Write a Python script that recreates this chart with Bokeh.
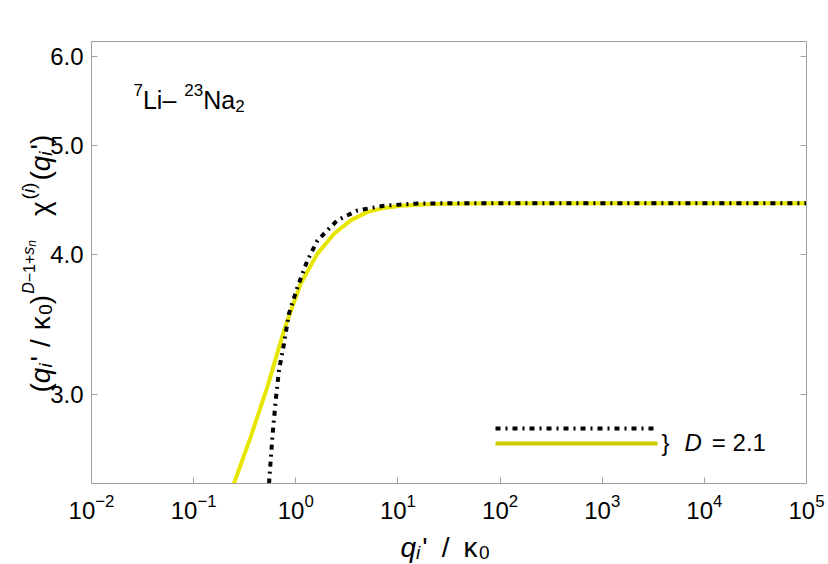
import math
from bokeh.plotting import figure
from bokeh.models import Label, FixedTicker, PrintfTickFormatter, LogAxis, Range1d, LogTickFormatter
from bokeh.embed import file_html
from bokeh.resources import INLINE

# ---------------- data ----------------
q_solid = [0.248, 0.362, 0.527, 0.767, 1.117, 1.63, 2.37, 3.44, 5.0, 7.3, 10.6, 22.0, 50.0, 100.0, 1e3, 1e4, 1e5]
chi_solid = [2.50, 2.751, 3.048, 3.423, 3.767, 4.006, 4.173, 4.289, 4.362, 4.40, 4.42, 4.435, 4.440, 4.443, 4.443, 4.443, 4.443]
q_dash = [0.547, 0.590, 0.636, 0.685, 0.767, 0.857, 1.04, 1.30, 1.63, 2.55, 4.01, 7.3, 15.5, 50.0, 100.0, 1e3, 1e4, 1e5]
chi_dash = [2.50, 2.751, 2.966, 3.154, 3.331, 3.542, 3.741, 3.951, 4.116, 4.289, 4.377, 4.42, 4.44, 4.443, 4.443, 4.443, 4.443, 4.443]
x_ticks = [1e-2, 1e-1, 1e0, 1e1, 1e2, 1e3, 1e4, 1e5]
y_ticks = [3.0, 4.0, 5.0, 6.0]
legend_value = "= 2.1"
X_LO, X_HI = 1e-2, 1e5
Y_LO, Y_HI = 2.5, 6.19

# ---------------- style / layout ----------------
FONT = "Liberation Sans"
GRAY = "#a0a0a0"
YELLOW = "#e6e600"
YELLOW_LEG = "#cccc00"
W, H = 828, 564
FL, FR, FT, FB = 91, 806, 41, 483   # plot box edges in page pixels


def dx(px):
    a, b = math.log10(X_LO), math.log10(X_HI)
    return 10 ** (a + (px - FL) / (FR - FL) * (b - a))


def dy(py):
    a, b = math.log10(Y_LO), math.log10(Y_HI)
    return 10 ** (a + (FB - py) / (FB - FT) * (b - a))


WID = {'(': 333, ')': 333, 'q': 556, 'i': 222, "'": 191, ' ': 278, '/': 278, 'κ': 520,
       '0': 556, '1': 556, '2': 556, '3': 556, '7': 556, 'D': 722, '−': 584, '+': 584,
       's': 500, 'n': 556, 'χ': 520, 'L': 556, 'a': 556, 'N': 722, '–': 556, '=': 584,
       '.': 278, '}': 334}


def tw(t, size):
    return sum(WID.get(c, 556) for c in t) * size / 1000.0


p = figure(width=W, height=H, x_axis_type="log", y_axis_type="log",
           x_range=Range1d(dx(0), dx(W)), y_range=Range1d(dy(H), dy(0)),
           output_backend="svg", toolbar_location=None, title=None,
           min_border=0, min_border_left=0, min_border_right=0,
           min_border_top=0, min_border_bottom=0)
p.grid.visible = False
p.outline_line_color = None
p.background_fill_color = "white"
p.border_fill_color = "white"

xa = p.xaxis[0]
xa.ticker = FixedTicker(ticks=x_ticks)
xa.formatter = LogTickFormatter()
xa.fixed_location = Y_LO
xa.bounds = (X_LO, X_HI)
ya = p.yaxis[0]
ya.ticker = FixedTicker(ticks=y_ticks)
ya.formatter = PrintfTickFormatter(format="%.1f")
ya.fixed_location = X_LO
ya.bounds = (Y_LO, Y_HI)

ra = LogAxis(ticker=FixedTicker(ticks=y_ticks), fixed_location=X_HI, bounds=(Y_LO, Y_HI))
ta = LogAxis(ticker=FixedTicker(ticks=[]), fixed_location=Y_HI, bounds=(X_LO, X_HI))
p.add_layout(ra, "right")
p.add_layout(ta, "above")

for ax in (xa, ya, ra, ta):
    ax.axis_line_color = GRAY
    ax.axis_line_width = 1
    ax.major_tick_line_color = GRAY
    ax.major_tick_in = 6
    ax.major_tick_out = 0
    ax.minor_tick_line_color = None
    ax.major_label_text_font = FONT
    ax.major_label_text_font_size = "24px"
    ax.major_label_text_color = "black"
for ax in (ra, ta):
    ax.major_label_text_color = None
    ax.major_label_standoff = 0
xa.major_label_standoff = 10
ya.major_label_standoff = 8

# curves
p.line(q_solid, chi_solid, line_color=YELLOW, line_width=4)
p.line(q_dash, chi_dash, line_color="black", line_width=4, line_dash="5 5 2 5")

# legend sample lines
p.line([dx(495), dx(655)], [dy(428), dy(428)], line_color="black", line_width=4, line_dash="5 5 2 5")
p.line([dx(495), dx(657)], [dy(443), dy(443)], line_color=YELLOW_LEG, line_width=4)


def put(px, py, txt, size, style="normal", angle=0.0):
    p.add_layout(Label(x=dx(px), y=dy(py), text=txt, text_font=FONT, text_font_size=f"{size}px",
                       text_font_style=style, angle=angle, text_baseline="alphabetic",
                       text_align="left", text_color="black"))


def run(x0, y0, pieces, vertical=False):
    pos = 0.0
    for txt, size, style, shift, gap in pieces:
        pos += gap
        if vertical:
            put(x0 + shift, y0 - pos, txt, size, style, math.pi / 2)
        else:
            put(x0 + pos, y0 + shift, txt, size, style)
        pos += tw(txt, size)


M, S, SS = 28, 19, 14
# x-axis label  q_i' / κ_0
run(400, 547, [("q", M, "italic", 0, 0), ("i", S, "italic", 5, 0), ("'", M, "normal", 0, 2),
               ("/", M, "normal", 0, 14), ("κ", M, "normal", 0, 14), ("0", S, "normal", 5, 1)])
# y-axis label  (q_i' / κ0)^{D-1+s_n}  χ^(i)(q_i')
YS, YSS = 16, 12
run(40, 392, [("(", M, "normal", 0, 0), ("q", M, "italic", 0, 0), ("i", S, "italic", 5, 0),
              ("'", M, "normal", 0, 2), ("/", M, "normal", 0, 9), ("κ", M, "normal", 0, 9),
              ("0", S, "normal", 5, 1), (")", M, "normal", 0, 0),
              ("D", YS, "italic", -12, 1), ("−1+", YS, "normal", -12, 0), ("s", YS, "italic", -12, 0),
              ("n", YSS, "italic", -9, 0),
              ("χ", M, "normal", 0, 24), ("(", S, "normal", -12, 2), ("i", S, "italic", -12, 0),
              (")", S, "normal", -12, 0), ("(", M, "normal", 0, 2), ("q", M, "italic", 0, 0),
              ("i", S, "italic", 5, 0), ("'", M, "normal", 0, 2), (")", M, "normal", 0, 0)],
    vertical=True)
# annotation 7Li- 23Na2
A, AS = 25, 17
run(133, 99, [("7", AS, "normal", -10, 0), ("Li–", A, "normal", 0, 0), ("23", AS, "normal", -10, 8),
              ("Na", A, "normal", 0, 0), ("2", AS, "normal", 6, 0)])
# legend text
run(661, 442, [("}", 24, "normal", 0, 0), ("D", 24, "italic", 0, 15), (legend_value, 24, "normal", 0, 10)])

open("out.html", "w").write(file_html(p, INLINE))
